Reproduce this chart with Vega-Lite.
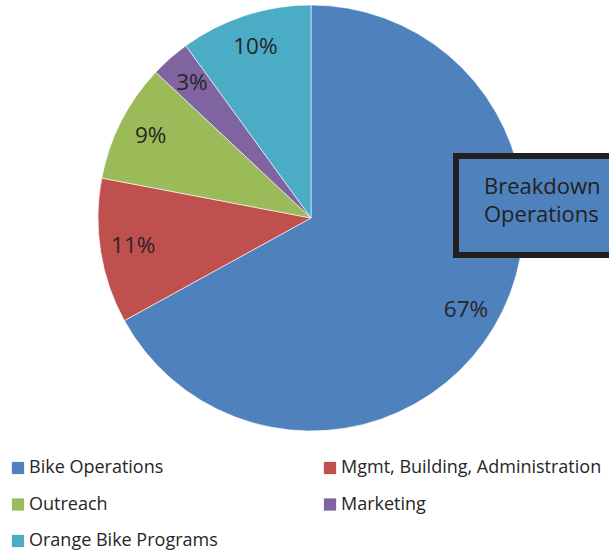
{
  "$schema": "https://vega.github.io/schema/vega-lite/v6.json",
  "width": 622,
  "height": 436,
  "padding": 0,
  "background": "white",
  "config": {"view": {"stroke": null}, "font": "Open Sans"},
  "data": {
    "values": [
      {"category": "Bike Operations", "share": 0.67, "rank": 1},
      {"category": "Mgmt, Building, Administration", "share": 0.11, "rank": 2},
      {"category": "Outreach", "share": 0.09, "rank": 3},
      {"category": "Marketing", "share": 0.03, "rank": 4},
      {"category": "Orange Bike Programs", "share": 0.10, "rank": 5}
    ]
  },
  "layer": [
    {
      "mark": {"type": "arc", "outerRadius": 213, "stroke": "#ffffff", "strokeWidth": 0.6},
      "encoding": {
        "theta": {"field": "share", "type": "quantitative", "stack": true},
        "order": {"field": "rank", "type": "quantitative"},
        "color": {
          "field": "category",
          "type": "nominal",
          "sort": null,
          "scale": {
            "domain": ["Bike Operations", "Outreach", "Orange Bike Programs", "Mgmt, Building, Administration", "Marketing"],
            "range": ["#4F81BD", "#9BBB59", "#4BACC6", "#C0504D", "#8064A2"]
          },
          "legend": {
            "title": null,
            "orient": "none",
            "legendX": 9,
            "legendY": 459,
            "columns": 2,
            "symbolType": "square",
            "symbolSize": 150,
            "symbolStrokeWidth": 0,
            "labelFontSize": 18,
            "labelFont": "Open Sans",
            "labelColor": "#262626",
            "labelOffset": 2,
            "rowPadding": 18.5,
            "columnPadding": 103,
            "labelLimit": 400
          }
        }
      }
    },
    {
      "mark": {"type": "text", "radius": 180, "fontSize": 22.5, "font": "Open Sans", "color": "#262626"},
      "encoding": {
        "theta": {"field": "share", "type": "quantitative", "stack": true},
        "order": {"field": "rank", "type": "quantitative"},
        "text": {"field": "share", "type": "quantitative", "format": ".0%"}
      }
    },
    {
      "data": {"values": [{"note": "box"}]},
      "mark": {"type": "rect", "fill": "#4F81BD", "stroke": "#231F20", "strokeWidth": 6},
      "encoding": {
        "x": {"datum": 456, "type": "quantitative", "scale": {"domain": [0, 622]}, "axis": null},
        "x2": {"datum": 640},
        "y": {"datum": 156, "type": "quantitative", "scale": {"domain": [0, 436], "reverse": true}, "axis": null},
        "y2": {"datum": 255}
      }
    },
    {
      "data": {"values": [{"note": "title"}]},
      "mark": {"type": "text", "align": "left", "baseline": "alphabetic", "fontSize": 22, "font": "Open Sans", "color": "#231F20", "lineHeight": 28},
      "encoding": {
        "x": {"datum": 484, "type": "quantitative", "scale": {"domain": [0, 622]}, "axis": null},
        "y": {"datum": 194, "type": "quantitative", "scale": {"domain": [0, 436], "reverse": true}, "axis": null},
        "text": {"value": ["Breakdown", "Operations"]}
      }
    }
  ]
}
